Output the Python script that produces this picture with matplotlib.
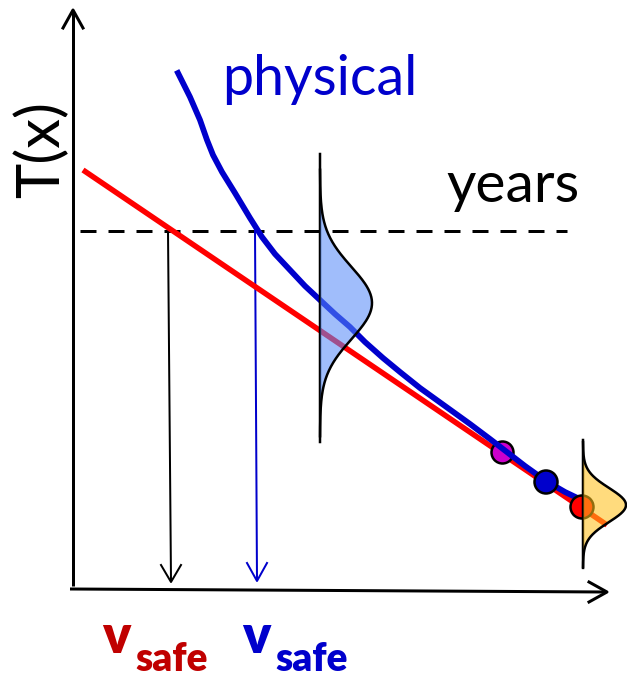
import numpy as np
import matplotlib
matplotlib.use('Agg')
import matplotlib.pyplot as plt

plt.rcParams['font.family'] = ['Lato', 'DejaVu Sans']

# --- schematic data (picture coordinates, y grows downwards) ---
# physical curve
phys_x = [178, 190, 200, 207, 213, 222, 235, 250, 262, 275, 290, 305, 320,
          335, 350, 365, 383, 400, 420, 445, 470, 490, 503, 525, 546, 565, 590]
phys_y = [73, 97, 120, 140, 155, 172, 193, 218, 237, 254, 270, 286, 300,
          314, 327, 342, 358, 372, 388, 406, 424, 439, 449, 466, 481, 492, 504]
# straight (red) fit
fit_x = [83, 607]
fit_y = [170, 525]
# level of "years"
years_level = 231
# measured points
pts_x = [502, 546, 582]
pts_y = [452, 482, 507]
pts_c = ['#CC00CC', '#0000CC', '#FF0000']
# distributions: base x, mean y, sigma, amplitude, line extent
dist_blue = dict(x0=320, mu=303, sig=36, amp=52, top=154, bot=442)
dist_orng = dict(x0=583, mu=505, sig=17, amp=43, top=440, bot=567)

PX = 72 / 100.0  # pixel -> points


def gauss(d, y):
    return d['x0'] + d['amp'] * np.exp(-(y - d['mu']) ** 2 / (2 * d['sig'] ** 2))


fig = plt.figure(figsize=(6.27, 6.77), dpi=100)
ax = fig.add_axes([0, 0, 1, 1])
ax.set_xlim(0, 627)
ax.set_ylim(677, 0)
ax.axis('off')

# axes with open arrow heads
ax.plot([73, 73], [586, 11], color='black', lw=3 * PX, solid_capstyle='butt')
ax.plot([63, 73, 83], [28, 10, 28], color='black', lw=3 * PX)
ax.plot([70, 606], [589, 592], color='black', lw=3 * PX, solid_capstyle='butt')
ax.plot([589, 607, 589], [582, 592, 602], color='black', lw=3 * PX)

# dashed years line
ax.plot([80, 567], [years_level, years_level], color='black', lw=3 * PX,
        dashes=(16 / 3.0, 12 / 3.0))

# down arrows to v_safe
ax.plot([168, 171], [years_level, 581], color='black', lw=2 * PX)
ax.plot([161, 171, 181], [565, 582, 565], color='black', lw=2 * PX)
ax.plot([255, 257], [years_level, 580], color='#0000CC', lw=2 * PX)
ax.plot([247, 257, 267], [563, 581, 563], color='#0000CC', lw=2 * PX)

# red line and physical curve
ax.plot(fit_x, fit_y, color='#FF0000', lw=5.5 * PX, solid_capstyle='butt')
ax.scatter(pts_x[:1], pts_y[:1], s=(22 * PX) ** 2, c=pts_c[:1],
           edgecolors='black', linewidths=2.5 * PX, zorder=3)
ax.plot(phys_x, phys_y, color='#0000CC', lw=5.8 * PX, zorder=4,
        solid_joinstyle='round')
ax.scatter(pts_x[1:], pts_y[1:], s=(23 * PX) ** 2, c=pts_c[1:],
           edgecolors='black', linewidths=2.5 * PX, zorder=5)

# distributions
for d, col in [(dist_blue, (88 / 255, 140 / 255, 249 / 255)),
               (dist_orng, (1.0, 193 / 255, 26 / 255))]:
    ax.plot([d['x0'], d['x0']], [d['top'], d['bot']], color='black',
            lw=2.5 * PX, zorder=6)
    yy = np.linspace(d['mu'] - 3.7 * d['sig'], d['mu'] + 3.7 * d['sig'], 200)
    ax.fill_betweenx(yy, d['x0'], gauss(d, yy), color=col, alpha=0.57,
                     lw=0, zorder=7)
    ax.plot(gauss(d, yy), yy, color='black', lw=2.5 * PX, zorder=8)

# texts
ax.text(42, 150, 'T(x)', rotation=90, ha='center', va='center',
        fontsize=43, color='black')
ax.text(222, 95, 'physical', ha='left', va='baseline', fontsize=40,
        color='#0000CC')
ax.text(446, 202, 'years', ha='left', va='baseline', fontsize=41,
        color='black')
for x0, col in [(102, '#C00000'), (242, '#0000CC')]:
    ax.text(x0, 653, 'v', ha='left', va='baseline', fontsize=38,
            fontweight='heavy', color=col)
    ax.text(x0 + 33, 671, 'safe', ha='left', va='baseline', fontsize=28,
            fontweight='heavy', color=col)

fig.savefig('out.png', dpi=100)
